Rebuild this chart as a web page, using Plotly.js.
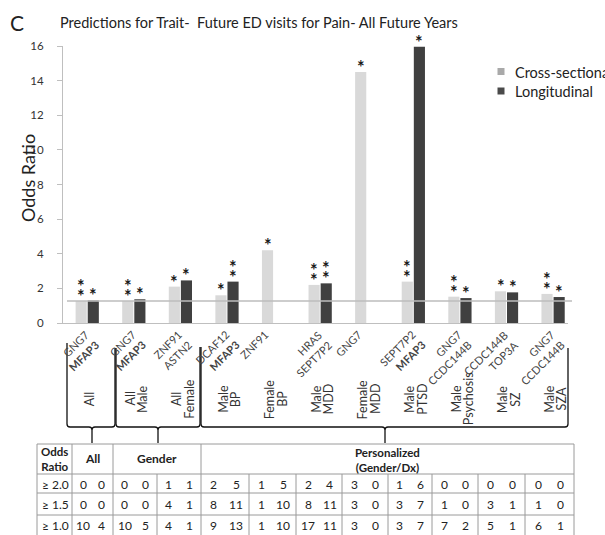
<!DOCTYPE html>
<html>
<head>
<meta charset="utf-8">
<script src="https://cdn.plot.ly/plotly-3.0.1.min.js"></script>
<style>html,body{margin:0;padding:0;background:#fff;overflow:hidden}#chart{width:605px;height:535px}</style>
</head>
<body>
<div id="chart"></div>
<script>
// ---- data ----
const geneLabels = ["GNG7<br><b>MFAP3</b>", "GNG7<br><b>MFAP3</b>", "ZNF91<br>ASTN2", "DCAF12<br><b>MFAP3</b>", "ZNF91",
  "HRAS<br>SEPT7P2", "GNG7", "SEPT7P2<br><b>MFAP3</b>", "GNG7<br>CCDC144B", "CCDC144B<br>TOP3A", "GNG7<br>CCDC144B"];
const groupLabels = [["All"], ["All", "Male"], ["All", "Female"], ["Male", "BP"], ["Female", "BP"], ["Male", "MDD"],
  ["Female", "MDD"], ["Male", "PTSD"], ["Male", "Psychosis"], ["Male", "SZ"], ["Male", "SZA"]];
const crossSectional = [1.27, 1.27, 2.1, 1.6, 4.2, 2.2, 14.5, 2.39, 1.52, 1.83, 1.68];
const longitudinal = [1.3, 1.37, 2.46, 2.39, null, 2.29, null, 15.95, 1.44, 1.77, 1.5];
const starsCross = [2, 2, 1, 1, 1, 2, 1, 2, 2, 1, 2];
const starsLongi = [1, 1, 1, 2, 0, 2, 0, 1, 1, 1, 1];
const referenceOR = 1.27;
const yTicks = [0, 2, 4, 6, 8, 10, 12, 14, 16];

// summary table
const tableRowLabels = ["\u2265 2.0", "\u2265 1.5", "\u2265 1.0"];
const tableGroups = ["All", "Gender", "Personalized<br>(Gender/Dx)"];
const row20 = [[0, 0], [0, 0], [1, 1], [2, 5], [1, 5], [2, 4], [3, 0], [1, 6], [0, 0], [0, 0], [0, 0]];
const row15 = [[0, 0], [0, 0], [4, 1], [8, 11], [1, 10], [8, 11], [3, 0], [3, 7], [1, 0], [3, 1], [1, 0]];
const row10 = [[10, 4], [10, 5], [4, 1], [9, 13], [1, 10], [17, 11], [3, 0], [3, 7], [7, 2], [5, 1], [6, 1]];

// ---- layout geometry (pixels) ----
const W = 605, H = 535, ML = 63, MR = 37, MT = 46, MB = 212;
const PW = W - ML - MR, PH = H - MT - MB;
const X = p => (p - ML) / PW;
const Y = p => (H - MB - p) / PH;
const FONT = "Lato, 'Open Sans', sans-serif";
const idx = geneLabels.map((_, i) => i);

const traces = [
  {type: 'bar', name: 'Cross-sectional', x: idx, y: crossSectional, marker: {color: '#d9d9d9'}, showlegend: false, cliponaxis: false},
  {type: 'bar', name: 'Longitudinal', x: idx, y: longitudinal, marker: {color: '#404040'}, showlegend: false, cliponaxis: false}
];

const shapes = [];
const ann = [];

// reference line
shapes.push({type: 'line', xref: 'paper', yref: 'y', x0: X(67), x1: X(572), y0: referenceOR, y1: referenceOR,
  line: {color: '#bdbdbd', width: 1.3}});

// significance stars
const BAR_OFF = 6;
function stars(vals, counts, shift) {
  vals.forEach((v, i) => {
    if (v == null) return;
    for (let k = 0; k < counts[i]; k++) {
      ann.push({x: i, y: v, xref: 'x', yref: 'y', text: '<b>*</b>', showarrow: false, xshift: shift, borderpad: 0,
        xanchor: 'center', yanchor: 'bottom', yshift: -7 + 10 * k, font: {family: FONT, size: 18, color: '#1a1a1a'}});
    }
  });
}
stars(crossSectional, starsCross, -BAR_OFF);
stars(longitudinal, starsLongi, BAR_OFF);

// gene tick labels (rotated, right-aligned, end near the tick)
geneLabels.forEach((t, i) => {
  const two = t.indexOf('<br>') >= 0;
  ann.push({x: i, y: Y(325), xref: 'x', yref: 'paper', text: t, textangle: -45, showarrow: false, align: 'right',
    xanchor: 'right', yanchor: 'top', xshift: two ? 17 : 0, font: {family: FONT, size: 11, color: '#444'}});
});

// group labels (rotated)
groupLabels.forEach((lines, i) => {
  const n = lines.length;
  lines.forEach((t, j) => {
    ann.push({x: i, y: Y(399), xref: 'x', yref: 'paper', text: t, textangle: -90, showarrow: false,
      xanchor: 'center', yanchor: 'middle',
      xshift: (j - (n - 1) / 2) * 12.6 + 2, font: {family: FONT, size: 12.5, color: '#333'}});
  });
});

// brackets
const blk = {color: '#111', width: 1.3};
function bracket(x0, x1, xt, top0, top1) {
  const yb = 427, r = 3;
  const path = `M ${X(x0)} ${Y(top0)} L ${X(x0)} ${Y(yb - r)} Q ${X(x0)} ${Y(yb)} ${X(x0 + r)} ${Y(yb)} ` +
    `L ${X(xt - r)} ${Y(yb)} Q ${X(xt)} ${Y(yb)} ${X(xt)} ${Y(yb + r)} L ${X(xt)} ${Y(443)} ` +
    `M ${X(xt)} ${Y(yb + r)} Q ${X(xt)} ${Y(yb)} ${X(xt + r)} ${Y(yb)} L ${X(x1 - r)} ${Y(yb)} ` +
    `Q ${X(x1)} ${Y(yb)} ${X(x1)} ${Y(yb - r)} L ${X(x1)} ${Y(top1)}`;
  shapes.push({type: 'path', xref: 'paper', yref: 'paper', path: path, line: blk});
}
bracket(67, 115, 92, 343, 348);
bracket(116, 200, 158, 348, 347);
bracket(201, 568, 385, 347, 348);

// table grid
const tl = {color: '#9a9a9a', width: 1};
const tTop = 444, rowsY = [474, 493, 515], tBot = 538;
const cellX = [72, 113, 157, 201, 249, 296, 342, 388, 432, 478, 525, 574];
[tTop].concat(rowsY).forEach(y => shapes.push({type: 'line', xref: 'paper', yref: 'paper', x0: X(37), x1: X(574), y0: Y(y), y1: Y(y), line: tl}));
[37, 72, 113, 201, 574].forEach(x => shapes.push({type: 'line', xref: 'paper', yref: 'paper', x0: X(x), x1: X(x), y0: Y(tTop), y1: Y(tBot), line: tl}));
[157, 249, 296, 342, 388, 432, 478, 525].forEach(x => shapes.push({type: 'line', xref: 'paper', yref: 'paper', x0: X(x), x1: X(x), y0: Y(474), y1: Y(tBot), line: tl}));

function txt(x, y, t, opts) {
  ann.push(Object.assign({x: X(x), y: Y(y), xref: 'paper', yref: 'paper', text: t, showarrow: false,
    xanchor: 'center', yanchor: 'middle', font: {family: FONT, size: 12, color: '#222'}}, opts || {}));
}
txt(55, 459, '<b>Odds<br>Ratio</b>', {font: {family: FONT, size: 11.5, color: '#222'}});
txt(92.5, 459, '<b>' + tableGroups[0] + '</b>');
txt(157, 459, '<b>' + tableGroups[1] + '</b>');
txt(387.5, 460, '<b>' + tableGroups[2] + '</b>', {font: {family: FONT, size: 11.5, color: '#222'}});
const rowCenters = [484, 504, 525];
[row20, row15, row10].forEach((row, r) => {
  txt(55, rowCenters[r], tableRowLabels[r]);
  row.forEach((pair, c) => {
    const xl = cellX[c], xr = cellX[c + 1], w = xr - xl;
    txt(xl + 0.27 * w, rowCenters[r], String(pair[0]));
    txt(xl + 0.73 * w, rowCenters[r], String(pair[1]));
  });
});

// legend (manual)
shapes.push({type: 'rect', xref: 'paper', yref: 'paper', x0: X(497.5), x1: X(504.5), y0: Y(68), y1: Y(75), fillcolor: '#a9a9a9', line: {width: 0}});
shapes.push({type: 'rect', xref: 'paper', yref: 'paper', x0: X(497.5), x1: X(504.5), y0: Y(87.5), y1: Y(94.5), fillcolor: '#4a4a4a', line: {width: 0}});
txt(513, 72, traces[0].name, {xanchor: 'left', font: {family: FONT, size: 14.5, color: '#222'}});
txt(513, 91, traces[1].name, {xanchor: 'left', font: {family: FONT, size: 14.5, color: '#222'}});

// title, panel letter, y title
txt(58, 23, 'Predictions for Trait-\u00a0 Future ED visits for Pain- All Future Years', {xanchor: 'left', font: {family: FONT, size: 14.5, color: '#222'}});
txt(8, 22, 'C', {xanchor: 'left', font: {family: FONT, size: 21, color: '#222'}});
txt(28, 178, 'Odds Ratio', {textangle: -90, font: {family: FONT, size: 18, color: '#222'}});

const layout = {
  width: W, height: H,
  margin: {l: ML, r: MR, t: MT, b: MB},
  paper_bgcolor: '#fff', plot_bgcolor: '#fff',
  barmode: 'group', bargap: 0.48, bargroupgap: 0.08,
  showlegend: false,
  font: {family: FONT, color: '#333'},
  xaxis: {range: [-0.52, 10.32], tickvals: idx, showticklabels: false,
    showline: true, linecolor: '#bfbfbf', linewidth: 1, ticks: '', showgrid: false, zeroline: false, fixedrange: true},
  yaxis: {range: [0, 16], tickvals: yTicks, showline: true, linecolor: '#bfbfbf', linewidth: 1,
    ticks: 'outside', ticklen: 5, tickcolor: '#bfbfbf', showgrid: false, zeroline: false,
    tickfont: {family: FONT, size: 11.5, color: '#333'}, ticklabelstandoff: 11, fixedrange: true},
  shapes: shapes, annotations: ann
};
Plotly.newPlot('chart', traces, layout, {staticPlot: true, displayModeBar: false});
</script>
</body>
</html>
